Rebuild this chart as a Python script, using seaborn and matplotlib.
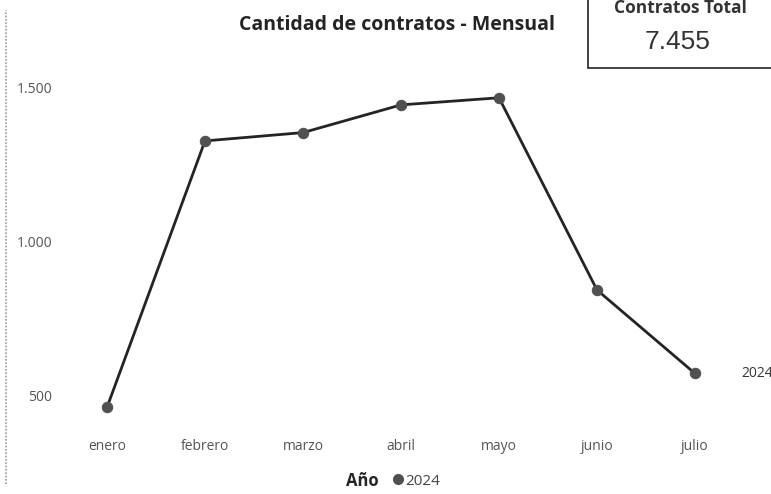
import numpy as np
import pandas as pd
import matplotlib
matplotlib.use("Agg")
import matplotlib.pyplot as plt
import seaborn as sns
from matplotlib.lines import Line2D
from matplotlib.patches import Rectangle
from matplotlib.ticker import FuncFormatter

meses = ["enero", "febrero", "marzo", "abril", "mayo", "junio", "julio"]
contratos = [460, 1325, 1352, 1442, 1465, 841, 570]
anio = "2024"
total = "7.455"

df = pd.DataFrame({"mes": meses, "contratos": contratos, "Año": anio})

sns.set_theme(style="white")
plt.rcParams["font.family"] = ["Open Sans", "DejaVu Sans"]

fig = plt.figure(figsize=(7.71, 4.94), dpi=100)
ax = fig.add_axes([58 / 771, 0.1567, 686 / 771, 0.7233])

sns.lineplot(data=df, x="mes", y="contratos", color="#252423", linewidth=2.0,
             marker="o", markersize=7.5, markerfacecolor="#505050",
             markeredgecolor="#505050", sort=False, legend=False, ax=ax)

ax.set_xlim(-0.5, 6.5)
ax.set_ylim(430, 1590)
ax.set_yticks([500, 1000, 1500])
ax.yaxis.set_major_formatter(FuncFormatter(lambda v, p: f"{int(v):,}".replace(",", ".")))
ax.set_xlabel("")
ax.set_ylabel("")
ax.tick_params(axis="x", length=0, pad=16, labelsize=10, labelcolor="#555555")
ax.tick_params(axis="y", length=0, pad=4, labelsize=10, labelcolor="#555555")
for s in ax.spines.values():
    s.set_visible(False)

# series label at end of line
ax.text(6.47, contratos[-1], anio, fontsize=10, color="#333333", va="center",
        ha="left", clip_on=False)

# title
fig.text(397 / 771, 1 - 25 / 494, "Cantidad de contratos - Mensual", ha="center",
         va="center", fontsize=14, fontweight="bold", color="#252423")

# left border of visual
fig.add_artist(Line2D([6 / 771, 6 / 771], [0.02, 0.98], color="#9a9a9a",
                      linewidth=1.2, linestyle=(0, (1, 1))))

# KPI card
fig.add_artist(Rectangle((588 / 771, 1 - 68 / 494), 190 / 771, 80 / 494,
                         transform=fig.transFigure, facecolor="white",
                         edgecolor="#222222", linewidth=1.2))
fig.text(680 / 771, 1 - 8 / 494, "Contratos Total", ha="center", va="center",
         fontsize=12.5, color="#333333", fontweight="bold")
fig.text(678 / 771, 1 - 42 / 494, total, ha="center", va="center",
         fontsize=19, color="#333333", family=["Liberation Sans", "DejaVu Sans"])

# legend
fig.text(362 / 771, 1 - 481 / 494, "Año", ha="center", va="center",
         fontsize=12, fontweight="bold", color="#252423")
handle = Line2D([], [], marker="o", linestyle="", markersize=7,
                markerfacecolor="#505050", markeredgecolor="#505050")
fig.legend([handle], [anio], loc="center", bbox_to_anchor=(415 / 771, 1 - 481 / 494),
           frameon=False, fontsize=11, handletextpad=0.0, handlelength=1.0,
           borderpad=0, labelcolor="#444444")

fig.savefig("out.png", dpi=100)
